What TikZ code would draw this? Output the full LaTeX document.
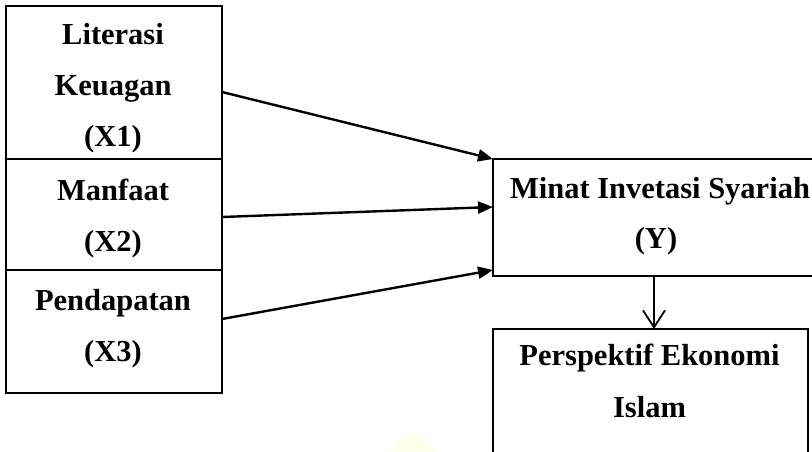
\documentclass[tikz,border=0pt]{standalone}
\usepackage{fontspec}
\setmainfont{Liberation Serif}
\usetikzlibrary{arrows.meta}
\begin{document}
\begin{tikzpicture}[x=1pt,y=-1pt,
  box/.style={draw,line width=1.8pt,inner sep=0pt,outer sep=0pt},
  txt/.style={anchor=base,inner sep=0pt,font=\fontsize{30.5}{30.5}\selectfont\bfseries},
  link/.style={line width=2.4pt,-{Triangle[length=15pt,width=12pt]}},
  down/.style={line width=1.8pt,-{Straight Barb[length=17pt,width=22pt,line width=1.8pt]}}]
\useasboundingbox (0,0) rectangle (812,451);
\clip (0,0) rectangle (812,451);
\fill[white] (0,0) rectangle (812,451);
% faint watermark
\fill[yellow!10] (413,433) -- (438,451) -- (387,451) -- cycle;
% left boxes
\node[box,minimum width=216pt,minimum height=153pt] (b1) at (114,82.5) {};
\node[box,minimum width=216pt,minimum height=111pt] (b2) at (114,214.5) {};
\node[box,minimum width=216pt,minimum height=123pt] (b3) at (114,331.5) {};
% right boxes
\node[box,minimum width=334pt,minimum height=117pt] (Y) at (660,217.5) {};
\node[box,minimum width=315pt,minimum height=150pt] (P) at (650.5,404) {};
% texts
\node[txt] (t11) at (113,44) {Literasi};
\node[txt] (t12) at (113,95) {Keuagan};
\node[txt] (t13) at (113,146) {(X1)};
\node[txt] (t21) at (113,200) {Manfaat};
\node[txt] (t22) at (113,251) {(X2)};
\node[txt] (t31) at (113,310) {Pendapatan};
\node[txt] (t32) at (113,361) {(X3)};
\node[txt] (ty1) at (660,198) {Minat Invetasi Syariah};
\node[txt] (ty2) at (656,248) {(Y)};
\node[txt] (tp1) at (649.5,365) {Perspektif Ekonomi};
\node[txt] (tp2) at (649.5,417) {Islam};
% connectors
\draw[link] ([yshift=-9.5pt]b1.east) -- (Y.north west);
\draw[link] ([yshift=-2.5pt]b2.east) -- ([yshift=10.5pt]Y.west);
\draw[link] ([yshift=12.5pt]b3.east) -- ([yshift=6pt]Y.south west);
\draw[down] ([xshift=-6pt]Y.south) -- ([xshift=-6pt]Y.south |- P.north);
\end{tikzpicture}
\end{document}
